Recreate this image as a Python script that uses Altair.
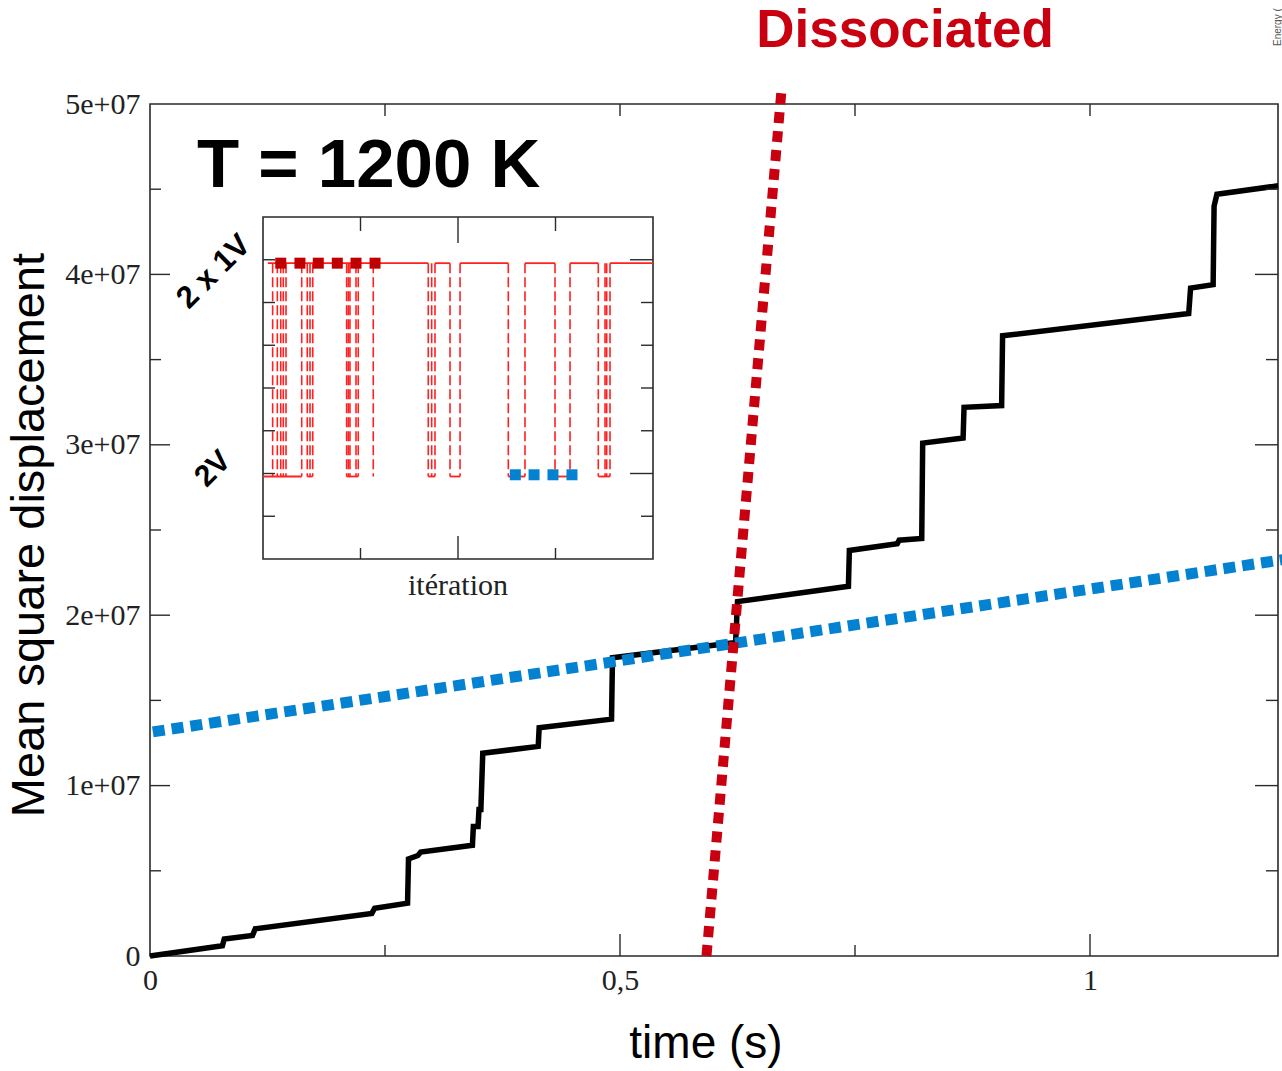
import altair as alt
import pandas as pd

# ---------------- main series: mean square displacement vs time ----------------
time_s = [0.0, 0.077, 0.079, 0.109, 0.112, 0.236, 0.239, 0.274, 0.275, 0.285,
          0.288, 0.343, 0.344, 0.349, 0.350, 0.352, 0.354, 0.413, 0.414, 0.491,
          0.492, 0.623, 0.625, 0.743, 0.744, 0.795, 0.797, 0.821, 0.822, 0.865,
          0.866, 0.906, 0.907, 1.105, 1.107, 1.131, 1.132, 1.135, 1.2]
msd = [0.0, 0.06e7, 0.10e7, 0.12e7, 0.16e7, 0.25e7, 0.28e7, 0.31e7, 0.57e7, 0.59e7,
       0.61e7, 0.65e7, 0.76e7, 0.76e7, 0.86e7, 0.86e7, 1.19e7, 1.23e7, 1.34e7, 1.39e7,
       1.75e7, 1.84e7, 2.08e7, 2.17e7, 2.38e7, 2.42e7, 2.44e7, 2.45e7, 3.01e7, 3.04e7,
       3.22e7, 3.23e7, 3.64e7, 3.77e7, 3.92e7, 3.94e7, 4.40e7, 4.47e7, 4.52e7]

# trend lines
bound_t = [0.003, 1.21]
bound_msd = [1.315e7, 2.33e7]
dissoc_t = [0.592, 0.672]
dissoc_msd = [0.0, 5.094e7]

# axis ticks
x_labels = [0, 0.5, 1]
x_major = [0.5, 1.0]
x_minor = [0.25, 0.75]
x_top = [0.25, 0.5, 0.75, 1.0]
y_labels = [0, 1e7, 2e7, 3e7, 4e7, 5e7]
y_major = [1e7, 2e7, 3e7, 4e7]
y_minor = [0.5e7, 1.5e7, 2.5e7, 3.5e7, 4.5e7]

# ---------------- inset: state along iterations ----------------
HIGH = 6.92   # "2 x 1V"
LOW = 1.93    # "2V"
switch_iter = [9.9, 14.7, 18.2, 20.8, 23.6, 39.7, 45.4, 48.2, 51.0, 85.8,
               87.5, 89.2, 95.4, 97.7, 113.1, 169.5, 173.0, 176.4, 191.8, 202.1,
               251.6, 268.7, 299.5, 314.9, 343.9, 350.8, 352.5, 355.9]
high_start = [5, 176.4, 202.1, 268.7, 314.9, 355.9]
high_end = [169.5, 191.8, 251.6, 299.5, 343.9, 400]
low_start = [0, 45.4, 85.8, 169.5, 191.8, 251.6, 299.5, 343.9]
low_end = [39.7, 51.0, 97.7, 176.4, 202.1, 268.7, 314.9, 355.9]
red_marks = [18.2, 37.9, 56.7, 76.2, 95.4, 114.9]
blue_marks = [258.8, 278.0, 297.4, 316.9]

FRAME = "#2a2a2a"
RED = "#c8000f"
BLUE = "#0482d2"

XS = alt.Scale(domain=[0, 1.2], nice=False, zero=False)
YS = alt.Scale(domain=[0, 5e7], nice=False)
IX = alt.Scale(domain=[0, 400], range=[113, 503], nice=False, zero=False)
IY = alt.Scale(domain=[0, 8], range=[455, 113], nice=False)

x_axis = alt.Axis(values=x_labels, labelExpr="replace(format(datum.value, '~g'), '.', ',')",
                  ticks=False, domain=False, grid=False, labelPadding=9, labelFlush=False,
                  labelFont="Liberation Serif", labelFontSize=30, labelColor="#222",
                  title=None)
y_axis = alt.Axis(values=y_labels,
                  labelExpr="datum.value == 0 ? '0' : format(datum.value / 1e7, 'd') + 'e+07'",
                  ticks=False, domain=False, grid=False, labelPadding=10, labelFlush=False,
                  labelFont="Liberation Serif", labelFontSize=30, labelColor="#222",
                  title=None)


def axes_for(xs):
    """Main-panel layers all carry the same axis definitions; inset layers carry none."""
    if xs is XS:
        return x_axis, y_axis
    return None, None


def vticks(vals, xs, ys, y_at, length):
    """Vertical inward tick marks along a horizontal edge."""
    ax, ay = axes_for(xs)
    df = pd.DataFrame({"v": vals})
    return alt.Chart(df).mark_rule(color=FRAME, strokeWidth=1.4, y2Offset=length).encode(
        x=alt.X("v:Q", scale=xs, axis=ax, title=None),
        y=alt.YDatum(y_at, scale=ys, axis=ay, title=None),
        y2=alt.Y2Datum(y_at),
    )


def hticks(vals, xs, ys, x_at, length):
    """Horizontal inward tick marks along a vertical edge."""
    ax, ay = axes_for(xs)
    df = pd.DataFrame({"v": vals})
    return alt.Chart(df).mark_rule(color=FRAME, strokeWidth=1.4, x2Offset=length).encode(
        y=alt.Y("v:Q", scale=ys, axis=ay, title=None),
        x=alt.XDatum(x_at, scale=xs, axis=ax, title=None),
        x2=alt.X2Datum(x_at),
    )


def label(text, x, y, **kw):
    return alt.Chart(pd.DataFrame({"t": [text]})).mark_text(**kw).encode(
        text="t:N", x=alt.value(x), y=alt.value(y)
    )


def main_line(t, v, **kw):
    return alt.Chart(pd.DataFrame({"t": t, "msd": v})).mark_line(**kw).encode(
        x=alt.X("t:Q", scale=XS, axis=x_axis, title=None),
        y=alt.Y("msd:Q", scale=YS, axis=y_axis, title=None),
    )


msd_line = main_line(time_s, msd, color="black", strokeWidth=5.5, strokeJoin="miter")
bound_line = main_line(bound_t, bound_msd, color=BLUE, strokeWidth=11,
                       strokeDash=[12, 7], strokeCap="butt")
dissoc_line = main_line(dissoc_t, dissoc_msd, color=RED, strokeWidth=10,
                        strokeDash=[11, 8], strokeCap="butt")

main = alt.layer(
    msd_line,
    bound_line,
    dissoc_line,
    vticks(x_major, XS, YS, 0, -22),
    vticks(x_minor, XS, YS, 0, -11),
    vticks(x_top, XS, YS, 5e7, 12),
    hticks(y_major, XS, YS, 0, 20),
    hticks(y_minor, XS, YS, 0, 11),
    hticks(y_major, XS, YS, 1.2, -23),
    hticks(y_minor, XS, YS, 1.2, -12),
    label("T = 1200 K", 47, 83, font="Liberation Sans", fontSize=69, fontWeight="bold",
          align="left", baseline="alphabetic", color="black"),
    label("Dissociated", 755, -57, font="Liberation Sans", fontSize=53, fontWeight="bold",
          align="center", baseline="alphabetic", color=RED),
    label("time (s)", 556, 954, font="Liberation Sans", fontSize=46,
          align="center", baseline="alphabetic", color="black"),
    label("Mean square displacement", -120, 431, font="Liberation Sans", fontSize=47,
          angle=270, align="center", baseline="middle", color="black"),
    label("Energy (", 1131, -58, font="Liberation Sans", fontSize=10, angle=270,
          align="left", baseline="alphabetic", color="#555"),
    label("2 x 1V", 64, 168, font="Liberation Sans", fontSize=31, fontWeight="bold",
          angle=315, align="center", baseline="middle", color="black"),
    label("2V", 63, 365, font="Liberation Sans", fontSize=30, fontWeight="bold",
          angle=315, align="center", baseline="middle", color="black"),
    label("itération", 308, 491, font="Liberation Serif", fontSize=30,
          align="center", baseline="alphabetic", color="#222"),
)

# ---------------- inset layers ----------------
frame = alt.Chart(pd.DataFrame({"x0": [0], "x1": [400], "y0": [0], "y1": [8]})).mark_rect(
    fill="white", stroke=FRAME, strokeWidth=1.6
).encode(
    x=alt.X("x0:Q", scale=IX, axis=None), x2="x1:Q",
    y=alt.Y("y0:Q", scale=IY, axis=None), y2="y1:Q",
)

high_df = pd.DataFrame({"a": high_start, "b": high_end, "lvl": [HIGH] * len(high_start)})
low_df = pd.DataFrame({"a": low_start, "b": low_end, "lvl": [LOW] * len(low_start)})
levels = alt.Chart(pd.concat([high_df, low_df])).mark_rule(color="#ff2020", strokeWidth=1.8).encode(
    x=alt.X("a:Q", scale=IX, axis=None), x2="b:Q",
    y=alt.Y("lvl:Q", scale=IY, axis=None),
)

switches = alt.Chart(pd.DataFrame({"v": switch_iter})).mark_rule(
    color="#ff2020", strokeWidth=1.6, strokeDash=[10, 4]
).encode(
    x=alt.X("v:Q", scale=IX, axis=None),
    y=alt.YDatum(HIGH, scale=IY, axis=None),
    y2=alt.Y2Datum(LOW),
)

red_sq = alt.Chart(pd.DataFrame({"x": red_marks, "y": [HIGH] * len(red_marks)})).mark_square(
    size=121, color="#c00000", opacity=1
).encode(x=alt.X("x:Q", scale=IX, axis=None), y=alt.Y("y:Q", scale=IY, axis=None))

blue_sq = alt.Chart(pd.DataFrame({"x": blue_marks, "y": [1.97] * len(blue_marks)})).mark_square(
    size=121, color=BLUE, opacity=1
).encode(x=alt.X("x:Q", scale=IX, axis=None), y=alt.Y("y:Q", scale=IY, axis=None))

inset = alt.layer(
    frame,
    levels,
    switches,
    red_sq,
    blue_sq,
    vticks([200], IX, IY, 0, -23),
    vticks([100, 300], IX, IY, 0, -11),
    vticks([200], IX, IY, 8, 26),
    vticks([100, 300], IX, IY, 8, 14),
    hticks([1, 2, 3, 4, 5, 6, 7], IX, IY, 0, 12),
    hticks([2, 7], IX, IY, 400, -23),
    hticks([1, 3, 4, 5, 6], IX, IY, 400, -12),
)

chart = alt.layer(main, inset).resolve_scale(
    x="independent", y="independent"
).properties(
    width=1128,
    height=852,
    autosize=alt.AutoSizeParams(type="none"),
    padding={"left": 150, "top": 104, "right": 4, "bottom": 115},
    background="white",
).configure_view(
    stroke=FRAME, strokeWidth=1.6
)

chart.save("out.html", embed_options={"renderer": "svg", "actions": False})
